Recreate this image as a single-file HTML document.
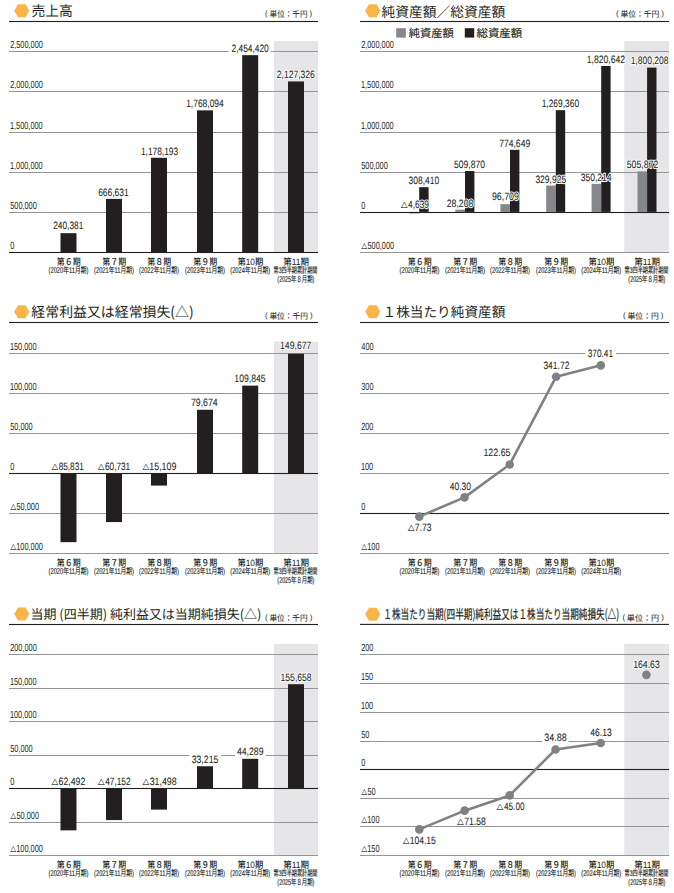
<!DOCTYPE html>
<html lang="ja"><head><meta charset="utf-8"><title>業績推移</title>
<style>
html,body{margin:0;padding:0;background:#fff;}
body{width:674px;height:893px;overflow:hidden;}
svg{display:block;}
text{text-rendering:geometricPrecision;}
</style></head><body>
<svg width="674" height="893" viewBox="0 0 674 893">
<rect width="674" height="893" fill="#fff"/>
<rect x="274.00" y="41.00" width="44.00" height="211.50" fill="#e6e6e8"/>
<rect x="9" y="51.00" width="309" height="1" fill="#949598"/>
<rect x="9" y="91.00" width="309" height="1" fill="#949598"/>
<rect x="9" y="132.00" width="309" height="1" fill="#949598"/>
<rect x="9" y="172.00" width="309" height="1" fill="#949598"/>
<rect x="9" y="212.00" width="309" height="1" fill="#949598"/>
<rect x="60.50" y="233.17" width="16.00" height="19.83" fill="#231f20"/>
<rect x="106.00" y="198.90" width="16.00" height="54.10" fill="#231f20"/>
<rect x="151.00" y="157.77" width="16.00" height="95.23" fill="#231f20"/>
<rect x="197.00" y="110.35" width="16.00" height="142.65" fill="#231f20"/>
<rect x="242.20" y="55.16" width="16.00" height="197.84" fill="#231f20"/>
<rect x="288.00" y="81.46" width="16.00" height="171.54" fill="#231f20"/>
<rect x="9" y="251.95" width="309" height="1.1" fill="#231f20"/>
<rect x="228.70" y="48.50" width="42.30" height="5.50" fill="#fff"/>
<text x="53.18" y="229.40" font-size="10.6" textLength="30.13" lengthAdjust="spacingAndGlyphs" fill="#fff" stroke="#fff" stroke-width="2.1" stroke-linejoin="round" style="font-family:'Liberation Sans','Noto Sans CJK JP',sans-serif">240,381</text>
<text x="53.18" y="229.40" font-size="10.6" textLength="30.13" lengthAdjust="spacingAndGlyphs" stroke="#231f20" stroke-width="0.05" fill="#231f20" style="font-family:'Liberation Sans','Noto Sans CJK JP',sans-serif">240,381</text>
<text x="98.17" y="195.90" font-size="10.6" textLength="30.54" lengthAdjust="spacingAndGlyphs" fill="#fff" stroke="#fff" stroke-width="2.1" stroke-linejoin="round" style="font-family:'Liberation Sans','Noto Sans CJK JP',sans-serif">666,631</text>
<text x="98.17" y="195.90" font-size="10.6" textLength="30.54" lengthAdjust="spacingAndGlyphs" stroke="#231f20" stroke-width="0.05" fill="#231f20" style="font-family:'Liberation Sans','Noto Sans CJK JP',sans-serif">666,631</text>
<text x="140.96" y="154.80" font-size="10.6" textLength="37.20" lengthAdjust="spacingAndGlyphs" fill="#fff" stroke="#fff" stroke-width="2.1" stroke-linejoin="round" style="font-family:'Liberation Sans','Noto Sans CJK JP',sans-serif">1,178,193</text>
<text x="140.96" y="154.80" font-size="10.6" textLength="37.20" lengthAdjust="spacingAndGlyphs" stroke="#231f20" stroke-width="0.05" fill="#231f20" style="font-family:'Liberation Sans','Noto Sans CJK JP',sans-serif">1,178,193</text>
<text x="186.16" y="106.80" font-size="10.6" textLength="37.59" lengthAdjust="spacingAndGlyphs" fill="#fff" stroke="#fff" stroke-width="2.1" stroke-linejoin="round" style="font-family:'Liberation Sans','Noto Sans CJK JP',sans-serif">1,768,094</text>
<text x="186.16" y="106.80" font-size="10.6" textLength="37.59" lengthAdjust="spacingAndGlyphs" stroke="#231f20" stroke-width="0.05" fill="#231f20" style="font-family:'Liberation Sans','Noto Sans CJK JP',sans-serif">1,768,094</text>
<text x="231.58" y="52.10" font-size="10.6" textLength="37.15" lengthAdjust="spacingAndGlyphs" fill="#fff" stroke="#fff" stroke-width="2.1" stroke-linejoin="round" style="font-family:'Liberation Sans','Noto Sans CJK JP',sans-serif">2,454,420</text>
<text x="231.58" y="52.10" font-size="10.6" textLength="37.15" lengthAdjust="spacingAndGlyphs" stroke="#231f20" stroke-width="0.05" fill="#231f20" style="font-family:'Liberation Sans','Noto Sans CJK JP',sans-serif">2,454,420</text>
<text x="276.77" y="78.00" font-size="10.6" textLength="38.11" lengthAdjust="spacingAndGlyphs" fill="#fff" stroke="#fff" stroke-width="2.1" stroke-linejoin="round" style="font-family:'Liberation Sans','Noto Sans CJK JP',sans-serif">2,127,326</text>
<text x="276.77" y="78.00" font-size="10.6" textLength="38.11" lengthAdjust="spacingAndGlyphs" stroke="#231f20" stroke-width="0.05" fill="#231f20" style="font-family:'Liberation Sans','Noto Sans CJK JP',sans-serif">2,127,326</text>
<text x="10.13" y="47.90" font-size="10.3" textLength="32.74" lengthAdjust="spacingAndGlyphs" fill="#231f20" style="font-family:'Liberation Sans','Noto Sans CJK JP',sans-serif">2,500,000</text>
<text x="10.13" y="87.90" font-size="10.3" textLength="32.74" lengthAdjust="spacingAndGlyphs" fill="#231f20" style="font-family:'Liberation Sans','Noto Sans CJK JP',sans-serif">2,000,000</text>
<text x="9.94" y="128.90" font-size="10.3" textLength="32.74" lengthAdjust="spacingAndGlyphs" fill="#231f20" style="font-family:'Liberation Sans','Noto Sans CJK JP',sans-serif">1,500,000</text>
<text x="9.94" y="168.90" font-size="10.3" textLength="32.74" lengthAdjust="spacingAndGlyphs" fill="#231f20" style="font-family:'Liberation Sans','Noto Sans CJK JP',sans-serif">1,000,000</text>
<text x="10.21" y="208.90" font-size="10.3" textLength="26.60" lengthAdjust="spacingAndGlyphs" fill="#231f20" style="font-family:'Liberation Sans','Noto Sans CJK JP',sans-serif">500,000</text>
<text x="10.21" y="248.90" font-size="10.3" textLength="4.09" lengthAdjust="spacingAndGlyphs" fill="#231f20" style="font-family:'Liberation Sans','Noto Sans CJK JP',sans-serif">0</text>
<text x="56.74" y="265.10" font-size="9.2" textLength="23.84" lengthAdjust="spacingAndGlyphs" fill="#231f20" style="font-family:'Liberation Sans','Noto Sans CJK JP',sans-serif;font-weight:500">第６期</text>
<text x="48.55" y="273.20" font-size="8.4" textLength="39.91" lengthAdjust="spacingAndGlyphs" stroke="#231f20" stroke-width="0.15" fill="#231f20" style="font-family:'Liberation Sans','Noto Sans CJK JP',sans-serif">(2020年11月期)</text>
<text x="102.24" y="265.10" font-size="9.2" textLength="23.84" lengthAdjust="spacingAndGlyphs" fill="#231f20" style="font-family:'Liberation Sans','Noto Sans CJK JP',sans-serif;font-weight:500">第７期</text>
<text x="94.05" y="273.20" font-size="8.4" textLength="39.91" lengthAdjust="spacingAndGlyphs" stroke="#231f20" stroke-width="0.15" fill="#231f20" style="font-family:'Liberation Sans','Noto Sans CJK JP',sans-serif">(2021年11月期)</text>
<text x="147.24" y="265.10" font-size="9.2" textLength="23.84" lengthAdjust="spacingAndGlyphs" fill="#231f20" style="font-family:'Liberation Sans','Noto Sans CJK JP',sans-serif;font-weight:500">第８期</text>
<text x="139.05" y="273.20" font-size="8.4" textLength="39.91" lengthAdjust="spacingAndGlyphs" stroke="#231f20" stroke-width="0.15" fill="#231f20" style="font-family:'Liberation Sans','Noto Sans CJK JP',sans-serif">(2022年11月期)</text>
<text x="193.24" y="265.10" font-size="9.2" textLength="23.84" lengthAdjust="spacingAndGlyphs" fill="#231f20" style="font-family:'Liberation Sans','Noto Sans CJK JP',sans-serif;font-weight:500">第９期</text>
<text x="185.05" y="273.20" font-size="8.4" textLength="39.91" lengthAdjust="spacingAndGlyphs" stroke="#231f20" stroke-width="0.15" fill="#231f20" style="font-family:'Liberation Sans','Noto Sans CJK JP',sans-serif">(2023年11月期)</text>
<text x="237.43" y="265.10" font-size="9.2" textLength="25.88" lengthAdjust="spacingAndGlyphs" fill="#231f20" style="font-family:'Liberation Sans','Noto Sans CJK JP',sans-serif;font-weight:500">第10期</text>
<text x="230.25" y="273.20" font-size="8.4" textLength="39.91" lengthAdjust="spacingAndGlyphs" stroke="#231f20" stroke-width="0.15" fill="#231f20" style="font-family:'Liberation Sans','Noto Sans CJK JP',sans-serif">(2024年11月期)</text>
<text x="283.23" y="265.10" font-size="9.2" textLength="25.88" lengthAdjust="spacingAndGlyphs" fill="#231f20" style="font-family:'Liberation Sans','Noto Sans CJK JP',sans-serif;font-weight:500">第11期</text>
<text x="273.53" y="273.20" font-size="8.2" textLength="43.90" lengthAdjust="spacingAndGlyphs" stroke="#231f20" stroke-width="0.15" fill="#231f20" style="font-family:'Liberation Sans','Noto Sans CJK JP',sans-serif">第3四半期累計期間</text>
<text x="277.37" y="282.10" font-size="8.4" textLength="36.97" lengthAdjust="spacingAndGlyphs" stroke="#231f20" stroke-width="0.15" fill="#231f20" style="font-family:'Liberation Sans','Noto Sans CJK JP',sans-serif">(2025年８月期)</text>
<polygon points="29.30,10.75 25.53,17.26 17.98,17.26 14.20,10.75 17.97,4.24 25.52,4.24" fill="#fbb448"/>
<text x="31.39" y="16.20" font-size="14" textLength="41.31" lengthAdjust="spacingAndGlyphs" fill="#231f20" style="font-family:'Noto Sans CJK JP','Liberation Sans',sans-serif">売上高</text>
<text x="265.11" y="16.30" font-size="7.789999999999999" textLength="2.64" lengthAdjust="spacingAndGlyphs" fill="#231f20" style="font-family:'Liberation Sans','Noto Sans CJK JP',sans-serif">(</text>
<text x="269.59" y="17.40" font-size="8.2" textLength="37.95" lengthAdjust="spacingAndGlyphs" stroke="#231f20" stroke-width="0.05" fill="#231f20" style="font-family:'Noto Sans CJK JP','Liberation Sans',sans-serif">単位：千円</text>
<text x="309.55" y="16.30" font-size="7.789999999999999" textLength="2.64" lengthAdjust="spacingAndGlyphs" fill="#231f20" style="font-family:'Liberation Sans','Noto Sans CJK JP',sans-serif">)</text>
<rect x="9" y="20.95" width="309" height="1.1" fill="#231f20"/>
<rect x="624.20" y="41.00" width="44.80" height="211.50" fill="#e6e6e8"/>
<rect x="360" y="51.00" width="309" height="1" fill="#949598"/>
<rect x="360" y="91.00" width="309" height="1" fill="#949598"/>
<rect x="360" y="132.00" width="309" height="1" fill="#949598"/>
<rect x="360" y="172.00" width="309" height="1" fill="#949598"/>
<rect x="360" y="252.00" width="309" height="1" fill="#949598"/>
<rect x="409.60" y="211.90" width="9.60" height="1.60" fill="#86878a"/>
<rect x="419.20" y="187.18" width="9.40" height="24.72" fill="#231f20"/>
<rect x="455.40" y="209.64" width="9.60" height="2.26" fill="#86878a"/>
<rect x="465.00" y="171.03" width="9.40" height="40.87" fill="#231f20"/>
<rect x="500.40" y="204.15" width="9.60" height="7.75" fill="#86878a"/>
<rect x="510.00" y="149.81" width="9.40" height="62.09" fill="#231f20"/>
<rect x="546.20" y="185.46" width="9.60" height="26.44" fill="#86878a"/>
<rect x="555.80" y="110.16" width="9.40" height="101.74" fill="#231f20"/>
<rect x="591.60" y="183.83" width="9.60" height="28.07" fill="#86878a"/>
<rect x="601.20" y="65.98" width="9.40" height="145.92" fill="#231f20"/>
<rect x="637.50" y="171.35" width="9.60" height="40.55" fill="#86878a"/>
<rect x="647.10" y="67.61" width="9.40" height="144.29" fill="#231f20"/>
<rect x="360" y="211.95" width="309" height="1.1" fill="#231f20"/>
<text x="400.69" y="207.69" font-size="7.493857493857494" textLength="6.91" lengthAdjust="spacingAndGlyphs" fill="#fff" stroke="#fff" stroke-width="2.1" stroke-linejoin="round" style="font-family:'Noto Sans CJK JP','Liberation Sans',sans-serif">△</text>
<text x="400.69" y="207.69" font-size="7.493857493857494" textLength="6.91" lengthAdjust="spacingAndGlyphs" stroke="#231f20" stroke-width="0.12" fill="#231f20" style="font-family:'Noto Sans CJK JP','Liberation Sans',sans-serif">△</text>
<text x="408.11" y="207.60" font-size="10.6" textLength="20.78" lengthAdjust="spacingAndGlyphs" fill="#fff" stroke="#fff" stroke-width="2.1" stroke-linejoin="round" style="font-family:'Liberation Sans','Noto Sans CJK JP',sans-serif">4,639</text>
<text x="408.11" y="207.60" font-size="10.6" textLength="20.78" lengthAdjust="spacingAndGlyphs" stroke="#231f20" stroke-width="0.05" fill="#231f20" style="font-family:'Liberation Sans','Noto Sans CJK JP',sans-serif">4,639</text>
<text x="408.58" y="183.70" font-size="10.6" textLength="30.55" lengthAdjust="spacingAndGlyphs" fill="#fff" stroke="#fff" stroke-width="2.1" stroke-linejoin="round" style="font-family:'Liberation Sans','Noto Sans CJK JP',sans-serif">308,410</text>
<text x="408.58" y="183.70" font-size="10.6" textLength="30.55" lengthAdjust="spacingAndGlyphs" stroke="#231f20" stroke-width="0.05" fill="#231f20" style="font-family:'Liberation Sans','Noto Sans CJK JP',sans-serif">308,410</text>
<text x="446.76" y="206.90" font-size="10.6" textLength="26.62" lengthAdjust="spacingAndGlyphs" fill="#fff" stroke="#fff" stroke-width="2.1" stroke-linejoin="round" style="font-family:'Liberation Sans','Noto Sans CJK JP',sans-serif">28,208</text>
<text x="446.76" y="206.90" font-size="10.6" textLength="26.62" lengthAdjust="spacingAndGlyphs" stroke="#231f20" stroke-width="0.05" fill="#231f20" style="font-family:'Liberation Sans','Noto Sans CJK JP',sans-serif">28,208</text>
<text x="453.96" y="168.10" font-size="10.6" textLength="30.98" lengthAdjust="spacingAndGlyphs" fill="#fff" stroke="#fff" stroke-width="2.1" stroke-linejoin="round" style="font-family:'Liberation Sans','Noto Sans CJK JP',sans-serif">509,870</text>
<text x="453.96" y="168.10" font-size="10.6" textLength="30.98" lengthAdjust="spacingAndGlyphs" stroke="#231f20" stroke-width="0.05" fill="#231f20" style="font-family:'Liberation Sans','Noto Sans CJK JP',sans-serif">509,870</text>
<text x="491.99" y="200.40" font-size="10.6" textLength="26.83" lengthAdjust="spacingAndGlyphs" fill="#fff" stroke="#fff" stroke-width="2.1" stroke-linejoin="round" style="font-family:'Liberation Sans','Noto Sans CJK JP',sans-serif">96,709</text>
<text x="491.99" y="200.40" font-size="10.6" textLength="26.83" lengthAdjust="spacingAndGlyphs" stroke="#231f20" stroke-width="0.05" fill="#231f20" style="font-family:'Liberation Sans','Noto Sans CJK JP',sans-serif">96,709</text>
<text x="499.16" y="146.70" font-size="10.6" textLength="31.05" lengthAdjust="spacingAndGlyphs" fill="#fff" stroke="#fff" stroke-width="2.1" stroke-linejoin="round" style="font-family:'Liberation Sans','Noto Sans CJK JP',sans-serif">774,649</text>
<text x="499.16" y="146.70" font-size="10.6" textLength="31.05" lengthAdjust="spacingAndGlyphs" stroke="#231f20" stroke-width="0.05" fill="#231f20" style="font-family:'Liberation Sans','Noto Sans CJK JP',sans-serif">774,649</text>
<text x="535.38" y="182.50" font-size="10.6" textLength="30.78" lengthAdjust="spacingAndGlyphs" fill="#fff" stroke="#fff" stroke-width="2.1" stroke-linejoin="round" style="font-family:'Liberation Sans','Noto Sans CJK JP',sans-serif">329,925</text>
<text x="535.38" y="182.50" font-size="10.6" textLength="30.78" lengthAdjust="spacingAndGlyphs" stroke="#231f20" stroke-width="0.05" fill="#231f20" style="font-family:'Liberation Sans','Noto Sans CJK JP',sans-serif">329,925</text>
<text x="541.66" y="106.70" font-size="10.6" textLength="37.47" lengthAdjust="spacingAndGlyphs" fill="#fff" stroke="#fff" stroke-width="2.1" stroke-linejoin="round" style="font-family:'Liberation Sans','Noto Sans CJK JP',sans-serif">1,269,360</text>
<text x="541.66" y="106.70" font-size="10.6" textLength="37.47" lengthAdjust="spacingAndGlyphs" stroke="#231f20" stroke-width="0.05" fill="#231f20" style="font-family:'Liberation Sans','Noto Sans CJK JP',sans-serif">1,269,360</text>
<text x="580.67" y="180.60" font-size="10.6" textLength="30.88" lengthAdjust="spacingAndGlyphs" fill="#fff" stroke="#fff" stroke-width="2.1" stroke-linejoin="round" style="font-family:'Liberation Sans','Noto Sans CJK JP',sans-serif">350,214</text>
<text x="580.67" y="180.60" font-size="10.6" textLength="30.88" lengthAdjust="spacingAndGlyphs" stroke="#231f20" stroke-width="0.05" fill="#231f20" style="font-family:'Liberation Sans','Noto Sans CJK JP',sans-serif">350,214</text>
<text x="586.74" y="62.50" font-size="10.6" textLength="38.39" lengthAdjust="spacingAndGlyphs" fill="#fff" stroke="#fff" stroke-width="2.1" stroke-linejoin="round" style="font-family:'Liberation Sans','Noto Sans CJK JP',sans-serif">1,820,642</text>
<text x="586.74" y="62.50" font-size="10.6" textLength="38.39" lengthAdjust="spacingAndGlyphs" stroke="#231f20" stroke-width="0.05" fill="#231f20" style="font-family:'Liberation Sans','Noto Sans CJK JP',sans-serif">1,820,642</text>
<text x="626.65" y="168.30" font-size="10.6" textLength="31.79" lengthAdjust="spacingAndGlyphs" fill="#fff" stroke="#fff" stroke-width="2.1" stroke-linejoin="round" style="font-family:'Liberation Sans','Noto Sans CJK JP',sans-serif">505,872</text>
<text x="626.65" y="168.30" font-size="10.6" textLength="31.79" lengthAdjust="spacingAndGlyphs" stroke="#231f20" stroke-width="0.05" fill="#231f20" style="font-family:'Liberation Sans','Noto Sans CJK JP',sans-serif">505,872</text>
<text x="630.65" y="63.50" font-size="10.6" textLength="37.82" lengthAdjust="spacingAndGlyphs" fill="#fff" stroke="#fff" stroke-width="2.1" stroke-linejoin="round" style="font-family:'Liberation Sans','Noto Sans CJK JP',sans-serif">1,800,208</text>
<text x="630.65" y="63.50" font-size="10.6" textLength="37.82" lengthAdjust="spacingAndGlyphs" stroke="#231f20" stroke-width="0.05" fill="#231f20" style="font-family:'Liberation Sans','Noto Sans CJK JP',sans-serif">1,800,208</text>
<text x="361.13" y="47.90" font-size="10.3" textLength="32.74" lengthAdjust="spacingAndGlyphs" fill="#231f20" style="font-family:'Liberation Sans','Noto Sans CJK JP',sans-serif">2,000,000</text>
<text x="360.94" y="87.90" font-size="10.3" textLength="32.74" lengthAdjust="spacingAndGlyphs" fill="#231f20" style="font-family:'Liberation Sans','Noto Sans CJK JP',sans-serif">1,500,000</text>
<text x="360.94" y="128.90" font-size="10.3" textLength="32.74" lengthAdjust="spacingAndGlyphs" fill="#231f20" style="font-family:'Liberation Sans','Noto Sans CJK JP',sans-serif">1,000,000</text>
<text x="361.21" y="168.90" font-size="10.3" textLength="26.60" lengthAdjust="spacingAndGlyphs" fill="#231f20" style="font-family:'Liberation Sans','Noto Sans CJK JP',sans-serif">500,000</text>
<text x="361.21" y="208.90" font-size="10.3" textLength="4.09" lengthAdjust="spacingAndGlyphs" fill="#231f20" style="font-family:'Liberation Sans','Noto Sans CJK JP',sans-serif">0</text>
<text x="361.32" y="248.99" font-size="7.125307125307126" textLength="5.96" lengthAdjust="spacingAndGlyphs" stroke="#231f20" stroke-width="0.12" fill="#231f20" style="font-family:'Noto Sans CJK JP','Liberation Sans',sans-serif">△</text>
<text x="367.51" y="248.90" font-size="10.3" textLength="26.60" lengthAdjust="spacingAndGlyphs" fill="#231f20" style="font-family:'Liberation Sans','Noto Sans CJK JP',sans-serif">500,000</text>
<text x="407.74" y="265.10" font-size="9.2" textLength="23.84" lengthAdjust="spacingAndGlyphs" fill="#231f20" style="font-family:'Liberation Sans','Noto Sans CJK JP',sans-serif;font-weight:500">第６期</text>
<text x="399.55" y="273.20" font-size="8.4" textLength="39.91" lengthAdjust="spacingAndGlyphs" stroke="#231f20" stroke-width="0.15" fill="#231f20" style="font-family:'Liberation Sans','Noto Sans CJK JP',sans-serif">(2020年11月期)</text>
<text x="453.24" y="265.10" font-size="9.2" textLength="23.84" lengthAdjust="spacingAndGlyphs" fill="#231f20" style="font-family:'Liberation Sans','Noto Sans CJK JP',sans-serif;font-weight:500">第７期</text>
<text x="445.05" y="273.20" font-size="8.4" textLength="39.91" lengthAdjust="spacingAndGlyphs" stroke="#231f20" stroke-width="0.15" fill="#231f20" style="font-family:'Liberation Sans','Noto Sans CJK JP',sans-serif">(2021年11月期)</text>
<text x="498.24" y="265.10" font-size="9.2" textLength="23.84" lengthAdjust="spacingAndGlyphs" fill="#231f20" style="font-family:'Liberation Sans','Noto Sans CJK JP',sans-serif;font-weight:500">第８期</text>
<text x="490.05" y="273.20" font-size="8.4" textLength="39.91" lengthAdjust="spacingAndGlyphs" stroke="#231f20" stroke-width="0.15" fill="#231f20" style="font-family:'Liberation Sans','Noto Sans CJK JP',sans-serif">(2022年11月期)</text>
<text x="544.24" y="265.10" font-size="9.2" textLength="23.84" lengthAdjust="spacingAndGlyphs" fill="#231f20" style="font-family:'Liberation Sans','Noto Sans CJK JP',sans-serif;font-weight:500">第９期</text>
<text x="536.05" y="273.20" font-size="8.4" textLength="39.91" lengthAdjust="spacingAndGlyphs" stroke="#231f20" stroke-width="0.15" fill="#231f20" style="font-family:'Liberation Sans','Noto Sans CJK JP',sans-serif">(2023年11月期)</text>
<text x="588.43" y="265.10" font-size="9.2" textLength="25.88" lengthAdjust="spacingAndGlyphs" fill="#231f20" style="font-family:'Liberation Sans','Noto Sans CJK JP',sans-serif;font-weight:500">第10期</text>
<text x="581.25" y="273.20" font-size="8.4" textLength="39.91" lengthAdjust="spacingAndGlyphs" stroke="#231f20" stroke-width="0.15" fill="#231f20" style="font-family:'Liberation Sans','Noto Sans CJK JP',sans-serif">(2024年11月期)</text>
<text x="634.23" y="265.10" font-size="9.2" textLength="25.88" lengthAdjust="spacingAndGlyphs" fill="#231f20" style="font-family:'Liberation Sans','Noto Sans CJK JP',sans-serif;font-weight:500">第11期</text>
<text x="624.53" y="273.20" font-size="8.2" textLength="43.90" lengthAdjust="spacingAndGlyphs" stroke="#231f20" stroke-width="0.15" fill="#231f20" style="font-family:'Liberation Sans','Noto Sans CJK JP',sans-serif">第3四半期累計期間</text>
<text x="628.37" y="282.10" font-size="8.4" textLength="36.97" lengthAdjust="spacingAndGlyphs" stroke="#231f20" stroke-width="0.15" fill="#231f20" style="font-family:'Liberation Sans','Noto Sans CJK JP',sans-serif">(2025年８月期)</text>
<polygon points="380.30,10.75 376.52,17.26 368.98,17.26 365.20,10.75 368.98,4.24 376.52,4.24" fill="#fbb448"/>
<text x="381.46" y="16.60" font-size="14" textLength="123.87" lengthAdjust="spacingAndGlyphs" fill="#231f20" style="font-family:'Noto Sans CJK JP','Liberation Sans',sans-serif">純資産額／総資産額</text>
<text x="615.91" y="16.30" font-size="7.789999999999999" textLength="2.64" lengthAdjust="spacingAndGlyphs" fill="#231f20" style="font-family:'Liberation Sans','Noto Sans CJK JP',sans-serif">(</text>
<text x="620.38" y="17.40" font-size="8.2" textLength="38.87" lengthAdjust="spacingAndGlyphs" stroke="#231f20" stroke-width="0.05" fill="#231f20" style="font-family:'Noto Sans CJK JP','Liberation Sans',sans-serif">単位：千円</text>
<text x="661.25" y="16.30" font-size="7.789999999999999" textLength="2.64" lengthAdjust="spacingAndGlyphs" fill="#231f20" style="font-family:'Liberation Sans','Noto Sans CJK JP',sans-serif">)</text>
<rect x="360" y="20.95" width="309" height="1.1" fill="#231f20"/>
<rect x="396.20" y="28.20" width="9.60" height="9.40" fill="#86878a"/>
<text x="408.82" y="37.00" font-size="11" textLength="44.85" lengthAdjust="spacingAndGlyphs" stroke="#231f20" stroke-width="0.15" fill="#231f20" style="font-family:'Noto Sans CJK JP','Liberation Sans',sans-serif">純資産額</text>
<rect x="464.80" y="28.20" width="9.40" height="9.40" fill="#231f20"/>
<text x="476.50" y="37.00" font-size="11" textLength="45.67" lengthAdjust="spacingAndGlyphs" stroke="#231f20" stroke-width="0.15" fill="#231f20" style="font-family:'Noto Sans CJK JP','Liberation Sans',sans-serif">総資産額</text>
<rect x="274.00" y="341.60" width="44.00" height="211.90" fill="#e6e6e8"/>
<rect x="9" y="353.00" width="309" height="1" fill="#949598"/>
<rect x="9" y="393.00" width="309" height="1" fill="#949598"/>
<rect x="9" y="433.00" width="309" height="1" fill="#949598"/>
<rect x="9" y="513.00" width="309" height="1" fill="#949598"/>
<rect x="9" y="553.00" width="309" height="1" fill="#949598"/>
<rect x="60.50" y="473.50" width="16.00" height="68.66" fill="#231f20"/>
<rect x="106.00" y="473.50" width="16.00" height="48.58" fill="#231f20"/>
<rect x="151.00" y="473.50" width="16.00" height="12.09" fill="#231f20"/>
<rect x="197.00" y="409.76" width="16.00" height="63.74" fill="#231f20"/>
<rect x="242.20" y="385.62" width="16.00" height="87.88" fill="#231f20"/>
<rect x="288.00" y="353.76" width="16.00" height="119.74" fill="#231f20"/>
<rect x="9" y="472.95" width="309" height="1.1" fill="#231f20"/>
<text x="51.39" y="470.09" font-size="7.493857493857494" textLength="6.91" lengthAdjust="spacingAndGlyphs" fill="#fff" stroke="#fff" stroke-width="2.1" stroke-linejoin="round" style="font-family:'Noto Sans CJK JP','Liberation Sans',sans-serif">△</text>
<text x="51.39" y="470.09" font-size="7.493857493857494" textLength="6.91" lengthAdjust="spacingAndGlyphs" stroke="#231f20" stroke-width="0.12" fill="#231f20" style="font-family:'Noto Sans CJK JP','Liberation Sans',sans-serif">△</text>
<text x="58.64" y="470.00" font-size="10.6" textLength="25.16" lengthAdjust="spacingAndGlyphs" fill="#fff" stroke="#fff" stroke-width="2.1" stroke-linejoin="round" style="font-family:'Liberation Sans','Noto Sans CJK JP',sans-serif">85,831</text>
<text x="58.64" y="470.00" font-size="10.6" textLength="25.16" lengthAdjust="spacingAndGlyphs" stroke="#231f20" stroke-width="0.05" fill="#231f20" style="font-family:'Liberation Sans','Noto Sans CJK JP',sans-serif">85,831</text>
<text x="97.79" y="470.09" font-size="7.493857493857494" textLength="6.91" lengthAdjust="spacingAndGlyphs" fill="#fff" stroke="#fff" stroke-width="2.1" stroke-linejoin="round" style="font-family:'Noto Sans CJK JP','Liberation Sans',sans-serif">△</text>
<text x="97.79" y="470.09" font-size="7.493857493857494" textLength="6.91" lengthAdjust="spacingAndGlyphs" stroke="#231f20" stroke-width="0.12" fill="#231f20" style="font-family:'Noto Sans CJK JP','Liberation Sans',sans-serif">△</text>
<text x="104.98" y="470.00" font-size="10.6" textLength="25.22" lengthAdjust="spacingAndGlyphs" fill="#fff" stroke="#fff" stroke-width="2.1" stroke-linejoin="round" style="font-family:'Liberation Sans','Noto Sans CJK JP',sans-serif">60,731</text>
<text x="104.98" y="470.00" font-size="10.6" textLength="25.22" lengthAdjust="spacingAndGlyphs" stroke="#231f20" stroke-width="0.05" fill="#231f20" style="font-family:'Liberation Sans','Noto Sans CJK JP',sans-serif">60,731</text>
<text x="142.39" y="470.09" font-size="7.493857493857494" textLength="6.91" lengthAdjust="spacingAndGlyphs" fill="#fff" stroke="#fff" stroke-width="2.1" stroke-linejoin="round" style="font-family:'Noto Sans CJK JP','Liberation Sans',sans-serif">△</text>
<text x="142.39" y="470.09" font-size="7.493857493857494" textLength="6.91" lengthAdjust="spacingAndGlyphs" stroke="#231f20" stroke-width="0.12" fill="#231f20" style="font-family:'Noto Sans CJK JP','Liberation Sans',sans-serif">△</text>
<text x="149.33" y="470.00" font-size="10.6" textLength="26.99" lengthAdjust="spacingAndGlyphs" fill="#fff" stroke="#fff" stroke-width="2.1" stroke-linejoin="round" style="font-family:'Liberation Sans','Noto Sans CJK JP',sans-serif">15,109</text>
<text x="149.33" y="470.00" font-size="10.6" textLength="26.99" lengthAdjust="spacingAndGlyphs" stroke="#231f20" stroke-width="0.05" fill="#231f20" style="font-family:'Liberation Sans','Noto Sans CJK JP',sans-serif">15,109</text>
<text x="190.95" y="405.90" font-size="10.6" textLength="26.70" lengthAdjust="spacingAndGlyphs" fill="#fff" stroke="#fff" stroke-width="2.1" stroke-linejoin="round" style="font-family:'Liberation Sans','Noto Sans CJK JP',sans-serif">79,674</text>
<text x="190.95" y="405.90" font-size="10.6" textLength="26.70" lengthAdjust="spacingAndGlyphs" stroke="#231f20" stroke-width="0.05" fill="#231f20" style="font-family:'Liberation Sans','Noto Sans CJK JP',sans-serif">79,674</text>
<text x="234.34" y="382.00" font-size="10.6" textLength="31.22" lengthAdjust="spacingAndGlyphs" fill="#fff" stroke="#fff" stroke-width="2.1" stroke-linejoin="round" style="font-family:'Liberation Sans','Noto Sans CJK JP',sans-serif">109,845</text>
<text x="234.34" y="382.00" font-size="10.6" textLength="31.22" lengthAdjust="spacingAndGlyphs" stroke="#231f20" stroke-width="0.05" fill="#231f20" style="font-family:'Liberation Sans','Noto Sans CJK JP',sans-serif">109,845</text>
<text x="280.04" y="349.40" font-size="10.6" textLength="31.29" lengthAdjust="spacingAndGlyphs" fill="#fff" stroke="#fff" stroke-width="2.1" stroke-linejoin="round" style="font-family:'Liberation Sans','Noto Sans CJK JP',sans-serif">149,677</text>
<text x="280.04" y="349.40" font-size="10.6" textLength="31.29" lengthAdjust="spacingAndGlyphs" stroke="#231f20" stroke-width="0.05" fill="#231f20" style="font-family:'Liberation Sans','Noto Sans CJK JP',sans-serif">149,677</text>
<text x="9.94" y="349.90" font-size="10.3" textLength="26.60" lengthAdjust="spacingAndGlyphs" fill="#231f20" style="font-family:'Liberation Sans','Noto Sans CJK JP',sans-serif">150,000</text>
<text x="9.94" y="389.90" font-size="10.3" textLength="26.60" lengthAdjust="spacingAndGlyphs" fill="#231f20" style="font-family:'Liberation Sans','Noto Sans CJK JP',sans-serif">100,000</text>
<text x="10.21" y="429.90" font-size="10.3" textLength="22.51" lengthAdjust="spacingAndGlyphs" fill="#231f20" style="font-family:'Liberation Sans','Noto Sans CJK JP',sans-serif">50,000</text>
<text x="10.21" y="469.90" font-size="10.3" textLength="4.09" lengthAdjust="spacingAndGlyphs" fill="#231f20" style="font-family:'Liberation Sans','Noto Sans CJK JP',sans-serif">0</text>
<text x="10.32" y="509.99" font-size="7.125307125307126" textLength="5.96" lengthAdjust="spacingAndGlyphs" stroke="#231f20" stroke-width="0.12" fill="#231f20" style="font-family:'Noto Sans CJK JP','Liberation Sans',sans-serif">△</text>
<text x="16.51" y="509.90" font-size="10.3" textLength="22.51" lengthAdjust="spacingAndGlyphs" fill="#231f20" style="font-family:'Liberation Sans','Noto Sans CJK JP',sans-serif">50,000</text>
<text x="10.32" y="549.99" font-size="7.125307125307126" textLength="5.96" lengthAdjust="spacingAndGlyphs" stroke="#231f20" stroke-width="0.12" fill="#231f20" style="font-family:'Noto Sans CJK JP','Liberation Sans',sans-serif">△</text>
<text x="16.24" y="549.90" font-size="10.3" textLength="26.60" lengthAdjust="spacingAndGlyphs" fill="#231f20" style="font-family:'Liberation Sans','Noto Sans CJK JP',sans-serif">100,000</text>
<text x="56.74" y="566.10" font-size="9.2" textLength="23.84" lengthAdjust="spacingAndGlyphs" fill="#231f20" style="font-family:'Liberation Sans','Noto Sans CJK JP',sans-serif;font-weight:500">第６期</text>
<text x="48.55" y="574.20" font-size="8.4" textLength="39.91" lengthAdjust="spacingAndGlyphs" stroke="#231f20" stroke-width="0.15" fill="#231f20" style="font-family:'Liberation Sans','Noto Sans CJK JP',sans-serif">(2020年11月期)</text>
<text x="102.24" y="566.10" font-size="9.2" textLength="23.84" lengthAdjust="spacingAndGlyphs" fill="#231f20" style="font-family:'Liberation Sans','Noto Sans CJK JP',sans-serif;font-weight:500">第７期</text>
<text x="94.05" y="574.20" font-size="8.4" textLength="39.91" lengthAdjust="spacingAndGlyphs" stroke="#231f20" stroke-width="0.15" fill="#231f20" style="font-family:'Liberation Sans','Noto Sans CJK JP',sans-serif">(2021年11月期)</text>
<text x="147.24" y="566.10" font-size="9.2" textLength="23.84" lengthAdjust="spacingAndGlyphs" fill="#231f20" style="font-family:'Liberation Sans','Noto Sans CJK JP',sans-serif;font-weight:500">第８期</text>
<text x="139.05" y="574.20" font-size="8.4" textLength="39.91" lengthAdjust="spacingAndGlyphs" stroke="#231f20" stroke-width="0.15" fill="#231f20" style="font-family:'Liberation Sans','Noto Sans CJK JP',sans-serif">(2022年11月期)</text>
<text x="193.24" y="566.10" font-size="9.2" textLength="23.84" lengthAdjust="spacingAndGlyphs" fill="#231f20" style="font-family:'Liberation Sans','Noto Sans CJK JP',sans-serif;font-weight:500">第９期</text>
<text x="185.05" y="574.20" font-size="8.4" textLength="39.91" lengthAdjust="spacingAndGlyphs" stroke="#231f20" stroke-width="0.15" fill="#231f20" style="font-family:'Liberation Sans','Noto Sans CJK JP',sans-serif">(2023年11月期)</text>
<text x="237.43" y="566.10" font-size="9.2" textLength="25.88" lengthAdjust="spacingAndGlyphs" fill="#231f20" style="font-family:'Liberation Sans','Noto Sans CJK JP',sans-serif;font-weight:500">第10期</text>
<text x="230.25" y="574.20" font-size="8.4" textLength="39.91" lengthAdjust="spacingAndGlyphs" stroke="#231f20" stroke-width="0.15" fill="#231f20" style="font-family:'Liberation Sans','Noto Sans CJK JP',sans-serif">(2024年11月期)</text>
<text x="283.23" y="566.10" font-size="9.2" textLength="25.88" lengthAdjust="spacingAndGlyphs" fill="#231f20" style="font-family:'Liberation Sans','Noto Sans CJK JP',sans-serif;font-weight:500">第11期</text>
<text x="273.53" y="574.20" font-size="8.2" textLength="43.90" lengthAdjust="spacingAndGlyphs" stroke="#231f20" stroke-width="0.15" fill="#231f20" style="font-family:'Liberation Sans','Noto Sans CJK JP',sans-serif">第3四半期累計期間</text>
<text x="277.37" y="583.10" font-size="8.4" textLength="36.97" lengthAdjust="spacingAndGlyphs" stroke="#231f20" stroke-width="0.15" fill="#231f20" style="font-family:'Liberation Sans','Noto Sans CJK JP',sans-serif">(2025年８月期)</text>
<polygon points="29.30,311.75 25.53,318.26 17.98,318.26 14.20,311.75 17.97,305.24 25.52,305.24" fill="#fbb448"/>
<text x="31.35" y="317.20" font-size="14" textLength="162.33" lengthAdjust="spacingAndGlyphs" fill="#231f20" style="font-family:'Noto Sans CJK JP','Liberation Sans',sans-serif">経常利益又は経常損失(△)</text>
<text x="264.91" y="318.10" font-size="7.789999999999999" textLength="2.64" lengthAdjust="spacingAndGlyphs" fill="#231f20" style="font-family:'Liberation Sans','Noto Sans CJK JP',sans-serif">(</text>
<text x="269.38" y="319.20" font-size="8.2" textLength="38.67" lengthAdjust="spacingAndGlyphs" stroke="#231f20" stroke-width="0.05" fill="#231f20" style="font-family:'Noto Sans CJK JP','Liberation Sans',sans-serif">単位：千円</text>
<text x="310.05" y="318.10" font-size="7.789999999999999" textLength="2.64" lengthAdjust="spacingAndGlyphs" fill="#231f20" style="font-family:'Liberation Sans','Noto Sans CJK JP',sans-serif">)</text>
<rect x="9" y="321.95" width="309" height="1.1" fill="#231f20"/>
<rect x="360" y="353.00" width="309" height="1" fill="#949598"/>
<rect x="360" y="393.00" width="309" height="1" fill="#949598"/>
<rect x="360" y="433.00" width="309" height="1" fill="#949598"/>
<rect x="360" y="473.00" width="309" height="1" fill="#949598"/>
<rect x="360" y="553.00" width="309" height="1" fill="#949598"/>
<rect x="360" y="512.95" width="309" height="1.1" fill="#231f20"/>
<rect x="585.30" y="352.00" width="30.80" height="3.00" fill="#fff"/>
<polyline points="419.30,516.59 464.50,497.38 509.70,464.44 556.10,376.81 600.80,365.34" fill="none" stroke="#808184" stroke-width="2.6" stroke-linejoin="round"/>
<circle cx="419.30" cy="516.59" r="4.3" fill="#808184"/>
<circle cx="464.50" cy="497.38" r="4.3" fill="#808184"/>
<circle cx="509.70" cy="464.44" r="4.3" fill="#808184"/>
<circle cx="556.10" cy="376.81" r="4.3" fill="#808184"/>
<circle cx="600.80" cy="365.34" r="4.3" fill="#808184"/>
<text x="407.69" y="530.89" font-size="7.493857493857494" textLength="6.91" lengthAdjust="spacingAndGlyphs" fill="#fff" stroke="#fff" stroke-width="2.1" stroke-linejoin="round" style="font-family:'Noto Sans CJK JP','Liberation Sans',sans-serif">△</text>
<text x="407.69" y="530.89" font-size="7.493857493857494" textLength="6.91" lengthAdjust="spacingAndGlyphs" stroke="#231f20" stroke-width="0.12" fill="#231f20" style="font-family:'Noto Sans CJK JP','Liberation Sans',sans-serif">△</text>
<text x="414.86" y="530.80" font-size="10.6" textLength="16.72" lengthAdjust="spacingAndGlyphs" fill="#fff" stroke="#fff" stroke-width="2.1" stroke-linejoin="round" style="font-family:'Liberation Sans','Noto Sans CJK JP',sans-serif">7.73</text>
<text x="414.86" y="530.80" font-size="10.6" textLength="16.72" lengthAdjust="spacingAndGlyphs" stroke="#231f20" stroke-width="0.05" fill="#231f20" style="font-family:'Liberation Sans','Noto Sans CJK JP',sans-serif">7.73</text>
<text x="449.71" y="489.90" font-size="10.6" textLength="21.23" lengthAdjust="spacingAndGlyphs" fill="#fff" stroke="#fff" stroke-width="2.1" stroke-linejoin="round" style="font-family:'Liberation Sans','Noto Sans CJK JP',sans-serif">40.30</text>
<text x="449.71" y="489.90" font-size="10.6" textLength="21.23" lengthAdjust="spacingAndGlyphs" stroke="#231f20" stroke-width="0.05" fill="#231f20" style="font-family:'Liberation Sans','Noto Sans CJK JP',sans-serif">40.30</text>
<text x="483.43" y="456.20" font-size="10.6" textLength="27.04" lengthAdjust="spacingAndGlyphs" fill="#fff" stroke="#fff" stroke-width="2.1" stroke-linejoin="round" style="font-family:'Liberation Sans','Noto Sans CJK JP',sans-serif">122.65</text>
<text x="483.43" y="456.20" font-size="10.6" textLength="27.04" lengthAdjust="spacingAndGlyphs" stroke="#231f20" stroke-width="0.05" fill="#231f20" style="font-family:'Liberation Sans','Noto Sans CJK JP',sans-serif">122.65</text>
<text x="543.38" y="368.50" font-size="10.6" textLength="26.05" lengthAdjust="spacingAndGlyphs" fill="#fff" stroke="#fff" stroke-width="2.1" stroke-linejoin="round" style="font-family:'Liberation Sans','Noto Sans CJK JP',sans-serif">341.72</text>
<text x="543.38" y="368.50" font-size="10.6" textLength="26.05" lengthAdjust="spacingAndGlyphs" stroke="#231f20" stroke-width="0.05" fill="#231f20" style="font-family:'Liberation Sans','Noto Sans CJK JP',sans-serif">341.72</text>
<text x="587.68" y="356.60" font-size="10.6" textLength="25.42" lengthAdjust="spacingAndGlyphs" fill="#fff" stroke="#fff" stroke-width="2.1" stroke-linejoin="round" style="font-family:'Liberation Sans','Noto Sans CJK JP',sans-serif">370.41</text>
<text x="587.68" y="356.60" font-size="10.6" textLength="25.42" lengthAdjust="spacingAndGlyphs" stroke="#231f20" stroke-width="0.05" fill="#231f20" style="font-family:'Liberation Sans','Noto Sans CJK JP',sans-serif">370.41</text>
<text x="361.33" y="349.90" font-size="10.3" textLength="12.28" lengthAdjust="spacingAndGlyphs" fill="#231f20" style="font-family:'Liberation Sans','Noto Sans CJK JP',sans-serif">400</text>
<text x="361.22" y="389.90" font-size="10.3" textLength="12.28" lengthAdjust="spacingAndGlyphs" fill="#231f20" style="font-family:'Liberation Sans','Noto Sans CJK JP',sans-serif">300</text>
<text x="361.13" y="429.90" font-size="10.3" textLength="12.28" lengthAdjust="spacingAndGlyphs" fill="#231f20" style="font-family:'Liberation Sans','Noto Sans CJK JP',sans-serif">200</text>
<text x="360.94" y="469.90" font-size="10.3" textLength="12.28" lengthAdjust="spacingAndGlyphs" fill="#231f20" style="font-family:'Liberation Sans','Noto Sans CJK JP',sans-serif">100</text>
<text x="361.21" y="509.90" font-size="10.3" textLength="4.09" lengthAdjust="spacingAndGlyphs" fill="#231f20" style="font-family:'Liberation Sans','Noto Sans CJK JP',sans-serif">0</text>
<text x="361.32" y="549.99" font-size="7.125307125307126" textLength="5.96" lengthAdjust="spacingAndGlyphs" stroke="#231f20" stroke-width="0.12" fill="#231f20" style="font-family:'Noto Sans CJK JP','Liberation Sans',sans-serif">△</text>
<text x="367.24" y="549.90" font-size="10.3" textLength="12.28" lengthAdjust="spacingAndGlyphs" fill="#231f20" style="font-family:'Liberation Sans','Noto Sans CJK JP',sans-serif">100</text>
<text x="407.74" y="566.10" font-size="9.2" textLength="23.84" lengthAdjust="spacingAndGlyphs" fill="#231f20" style="font-family:'Liberation Sans','Noto Sans CJK JP',sans-serif;font-weight:500">第６期</text>
<text x="399.55" y="574.20" font-size="8.4" textLength="39.91" lengthAdjust="spacingAndGlyphs" stroke="#231f20" stroke-width="0.15" fill="#231f20" style="font-family:'Liberation Sans','Noto Sans CJK JP',sans-serif">(2020年11月期)</text>
<text x="453.24" y="566.10" font-size="9.2" textLength="23.84" lengthAdjust="spacingAndGlyphs" fill="#231f20" style="font-family:'Liberation Sans','Noto Sans CJK JP',sans-serif;font-weight:500">第７期</text>
<text x="445.05" y="574.20" font-size="8.4" textLength="39.91" lengthAdjust="spacingAndGlyphs" stroke="#231f20" stroke-width="0.15" fill="#231f20" style="font-family:'Liberation Sans','Noto Sans CJK JP',sans-serif">(2021年11月期)</text>
<text x="498.24" y="566.10" font-size="9.2" textLength="23.84" lengthAdjust="spacingAndGlyphs" fill="#231f20" style="font-family:'Liberation Sans','Noto Sans CJK JP',sans-serif;font-weight:500">第８期</text>
<text x="490.05" y="574.20" font-size="8.4" textLength="39.91" lengthAdjust="spacingAndGlyphs" stroke="#231f20" stroke-width="0.15" fill="#231f20" style="font-family:'Liberation Sans','Noto Sans CJK JP',sans-serif">(2022年11月期)</text>
<text x="544.24" y="566.10" font-size="9.2" textLength="23.84" lengthAdjust="spacingAndGlyphs" fill="#231f20" style="font-family:'Liberation Sans','Noto Sans CJK JP',sans-serif;font-weight:500">第９期</text>
<text x="536.05" y="574.20" font-size="8.4" textLength="39.91" lengthAdjust="spacingAndGlyphs" stroke="#231f20" stroke-width="0.15" fill="#231f20" style="font-family:'Liberation Sans','Noto Sans CJK JP',sans-serif">(2023年11月期)</text>
<text x="588.43" y="566.10" font-size="9.2" textLength="25.88" lengthAdjust="spacingAndGlyphs" fill="#231f20" style="font-family:'Liberation Sans','Noto Sans CJK JP',sans-serif;font-weight:500">第10期</text>
<text x="581.25" y="574.20" font-size="8.4" textLength="39.91" lengthAdjust="spacingAndGlyphs" stroke="#231f20" stroke-width="0.15" fill="#231f20" style="font-family:'Liberation Sans','Noto Sans CJK JP',sans-serif">(2024年11月期)</text>
<polygon points="380.30,311.75 376.52,318.26 368.98,318.26 365.20,311.75 368.98,305.24 376.52,305.24" fill="#fbb448"/>
<text x="382.53" y="317.20" font-size="14" textLength="122.80" lengthAdjust="spacingAndGlyphs" fill="#231f20" style="font-family:'Noto Sans CJK JP','Liberation Sans',sans-serif">１株当たり純資産額</text>
<text x="623.11" y="318.10" font-size="7.789999999999999" textLength="2.64" lengthAdjust="spacingAndGlyphs" fill="#231f20" style="font-family:'Liberation Sans','Noto Sans CJK JP',sans-serif">(</text>
<text x="627.58" y="319.20" font-size="8.2" textLength="31.18" lengthAdjust="spacingAndGlyphs" stroke="#231f20" stroke-width="0.05" fill="#231f20" style="font-family:'Noto Sans CJK JP','Liberation Sans',sans-serif">単位：円</text>
<text x="660.75" y="318.10" font-size="7.789999999999999" textLength="2.64" lengthAdjust="spacingAndGlyphs" fill="#231f20" style="font-family:'Liberation Sans','Noto Sans CJK JP',sans-serif">)</text>
<rect x="360" y="321.95" width="309" height="1.1" fill="#231f20"/>
<rect x="274.00" y="643.80" width="44.00" height="211.70" fill="#e6e6e8"/>
<rect x="9" y="654.00" width="309" height="1" fill="#949598"/>
<rect x="9" y="688.00" width="309" height="1" fill="#949598"/>
<rect x="9" y="721.00" width="309" height="1" fill="#949598"/>
<rect x="9" y="755.00" width="309" height="1" fill="#949598"/>
<rect x="9" y="822.00" width="309" height="1" fill="#949598"/>
<rect x="9" y="855.00" width="309" height="1" fill="#949598"/>
<rect x="60.50" y="788.50" width="16.00" height="41.87" fill="#231f20"/>
<rect x="106.00" y="788.50" width="16.00" height="31.59" fill="#231f20"/>
<rect x="151.00" y="788.50" width="16.00" height="21.10" fill="#231f20"/>
<rect x="197.00" y="766.25" width="16.00" height="22.25" fill="#231f20"/>
<rect x="242.20" y="758.83" width="16.00" height="29.67" fill="#231f20"/>
<rect x="288.00" y="684.21" width="16.00" height="104.29" fill="#231f20"/>
<rect x="9" y="787.95" width="309" height="1.1" fill="#231f20"/>
<rect x="189.30" y="753.50" width="31.80" height="4.00" fill="#fff"/>
<rect x="235.00" y="753.50" width="30.60" height="4.00" fill="#fff"/>
<text x="51.39" y="784.59" font-size="7.493857493857494" textLength="6.91" lengthAdjust="spacingAndGlyphs" fill="#fff" stroke="#fff" stroke-width="2.1" stroke-linejoin="round" style="font-family:'Noto Sans CJK JP','Liberation Sans',sans-serif">△</text>
<text x="51.39" y="784.59" font-size="7.493857493857494" textLength="6.91" lengthAdjust="spacingAndGlyphs" stroke="#231f20" stroke-width="0.12" fill="#231f20" style="font-family:'Noto Sans CJK JP','Liberation Sans',sans-serif">△</text>
<text x="58.56" y="784.50" font-size="10.6" textLength="26.79" lengthAdjust="spacingAndGlyphs" fill="#fff" stroke="#fff" stroke-width="2.1" stroke-linejoin="round" style="font-family:'Liberation Sans','Noto Sans CJK JP',sans-serif">62,492</text>
<text x="58.56" y="784.50" font-size="10.6" textLength="26.79" lengthAdjust="spacingAndGlyphs" stroke="#231f20" stroke-width="0.05" fill="#231f20" style="font-family:'Liberation Sans','Noto Sans CJK JP',sans-serif">62,492</text>
<text x="97.79" y="784.59" font-size="7.493857493857494" textLength="6.91" lengthAdjust="spacingAndGlyphs" fill="#fff" stroke="#fff" stroke-width="2.1" stroke-linejoin="round" style="font-family:'Noto Sans CJK JP','Liberation Sans',sans-serif">△</text>
<text x="97.79" y="784.59" font-size="7.493857493857494" textLength="6.91" lengthAdjust="spacingAndGlyphs" stroke="#231f20" stroke-width="0.12" fill="#231f20" style="font-family:'Noto Sans CJK JP','Liberation Sans',sans-serif">△</text>
<text x="105.21" y="784.50" font-size="10.6" textLength="25.41" lengthAdjust="spacingAndGlyphs" fill="#fff" stroke="#fff" stroke-width="2.1" stroke-linejoin="round" style="font-family:'Liberation Sans','Noto Sans CJK JP',sans-serif">47,152</text>
<text x="105.21" y="784.50" font-size="10.6" textLength="25.41" lengthAdjust="spacingAndGlyphs" stroke="#231f20" stroke-width="0.05" fill="#231f20" style="font-family:'Liberation Sans','Noto Sans CJK JP',sans-serif">47,152</text>
<text x="142.39" y="784.59" font-size="7.493857493857494" textLength="6.91" lengthAdjust="spacingAndGlyphs" fill="#fff" stroke="#fff" stroke-width="2.1" stroke-linejoin="round" style="font-family:'Noto Sans CJK JP','Liberation Sans',sans-serif">△</text>
<text x="142.39" y="784.59" font-size="7.493857493857494" textLength="6.91" lengthAdjust="spacingAndGlyphs" stroke="#231f20" stroke-width="0.12" fill="#231f20" style="font-family:'Noto Sans CJK JP','Liberation Sans',sans-serif">△</text>
<text x="149.66" y="784.50" font-size="10.6" textLength="27.02" lengthAdjust="spacingAndGlyphs" fill="#fff" stroke="#fff" stroke-width="2.1" stroke-linejoin="round" style="font-family:'Liberation Sans','Noto Sans CJK JP',sans-serif">31,498</text>
<text x="149.66" y="784.50" font-size="10.6" textLength="27.02" lengthAdjust="spacingAndGlyphs" stroke="#231f20" stroke-width="0.05" fill="#231f20" style="font-family:'Liberation Sans','Noto Sans CJK JP',sans-serif">31,498</text>
<text x="191.67" y="762.60" font-size="10.6" textLength="26.70" lengthAdjust="spacingAndGlyphs" fill="#fff" stroke="#fff" stroke-width="2.1" stroke-linejoin="round" style="font-family:'Liberation Sans','Noto Sans CJK JP',sans-serif">33,215</text>
<text x="191.67" y="762.60" font-size="10.6" textLength="26.70" lengthAdjust="spacingAndGlyphs" stroke="#231f20" stroke-width="0.05" fill="#231f20" style="font-family:'Liberation Sans','Noto Sans CJK JP',sans-serif">33,215</text>
<text x="236.90" y="755.30" font-size="10.6" textLength="26.61" lengthAdjust="spacingAndGlyphs" fill="#fff" stroke="#fff" stroke-width="2.1" stroke-linejoin="round" style="font-family:'Liberation Sans','Noto Sans CJK JP',sans-serif">44,289</text>
<text x="236.90" y="755.30" font-size="10.6" textLength="26.61" lengthAdjust="spacingAndGlyphs" stroke="#231f20" stroke-width="0.05" fill="#231f20" style="font-family:'Liberation Sans','Noto Sans CJK JP',sans-serif">44,289</text>
<text x="280.54" y="680.50" font-size="10.6" textLength="31.13" lengthAdjust="spacingAndGlyphs" fill="#fff" stroke="#fff" stroke-width="2.1" stroke-linejoin="round" style="font-family:'Liberation Sans','Noto Sans CJK JP',sans-serif">155,658</text>
<text x="280.54" y="680.50" font-size="10.6" textLength="31.13" lengthAdjust="spacingAndGlyphs" stroke="#231f20" stroke-width="0.05" fill="#231f20" style="font-family:'Liberation Sans','Noto Sans CJK JP',sans-serif">155,658</text>
<text x="10.13" y="650.90" font-size="10.3" textLength="26.60" lengthAdjust="spacingAndGlyphs" fill="#231f20" style="font-family:'Liberation Sans','Noto Sans CJK JP',sans-serif">200,000</text>
<text x="9.94" y="684.90" font-size="10.3" textLength="26.60" lengthAdjust="spacingAndGlyphs" fill="#231f20" style="font-family:'Liberation Sans','Noto Sans CJK JP',sans-serif">150,000</text>
<text x="9.94" y="717.90" font-size="10.3" textLength="26.60" lengthAdjust="spacingAndGlyphs" fill="#231f20" style="font-family:'Liberation Sans','Noto Sans CJK JP',sans-serif">100,000</text>
<text x="10.21" y="751.90" font-size="10.3" textLength="22.51" lengthAdjust="spacingAndGlyphs" fill="#231f20" style="font-family:'Liberation Sans','Noto Sans CJK JP',sans-serif">50,000</text>
<text x="10.21" y="784.90" font-size="10.3" textLength="4.09" lengthAdjust="spacingAndGlyphs" fill="#231f20" style="font-family:'Liberation Sans','Noto Sans CJK JP',sans-serif">0</text>
<text x="10.32" y="818.99" font-size="7.125307125307126" textLength="5.96" lengthAdjust="spacingAndGlyphs" stroke="#231f20" stroke-width="0.12" fill="#231f20" style="font-family:'Noto Sans CJK JP','Liberation Sans',sans-serif">△</text>
<text x="16.51" y="818.90" font-size="10.3" textLength="22.51" lengthAdjust="spacingAndGlyphs" fill="#231f20" style="font-family:'Liberation Sans','Noto Sans CJK JP',sans-serif">50,000</text>
<text x="10.32" y="851.99" font-size="7.125307125307126" textLength="5.96" lengthAdjust="spacingAndGlyphs" stroke="#231f20" stroke-width="0.12" fill="#231f20" style="font-family:'Noto Sans CJK JP','Liberation Sans',sans-serif">△</text>
<text x="16.24" y="851.90" font-size="10.3" textLength="26.60" lengthAdjust="spacingAndGlyphs" fill="#231f20" style="font-family:'Liberation Sans','Noto Sans CJK JP',sans-serif">100,000</text>
<text x="56.74" y="868.10" font-size="9.2" textLength="23.84" lengthAdjust="spacingAndGlyphs" fill="#231f20" style="font-family:'Liberation Sans','Noto Sans CJK JP',sans-serif;font-weight:500">第６期</text>
<text x="48.55" y="876.20" font-size="8.4" textLength="39.91" lengthAdjust="spacingAndGlyphs" stroke="#231f20" stroke-width="0.15" fill="#231f20" style="font-family:'Liberation Sans','Noto Sans CJK JP',sans-serif">(2020年11月期)</text>
<text x="102.24" y="868.10" font-size="9.2" textLength="23.84" lengthAdjust="spacingAndGlyphs" fill="#231f20" style="font-family:'Liberation Sans','Noto Sans CJK JP',sans-serif;font-weight:500">第７期</text>
<text x="94.05" y="876.20" font-size="8.4" textLength="39.91" lengthAdjust="spacingAndGlyphs" stroke="#231f20" stroke-width="0.15" fill="#231f20" style="font-family:'Liberation Sans','Noto Sans CJK JP',sans-serif">(2021年11月期)</text>
<text x="147.24" y="868.10" font-size="9.2" textLength="23.84" lengthAdjust="spacingAndGlyphs" fill="#231f20" style="font-family:'Liberation Sans','Noto Sans CJK JP',sans-serif;font-weight:500">第８期</text>
<text x="139.05" y="876.20" font-size="8.4" textLength="39.91" lengthAdjust="spacingAndGlyphs" stroke="#231f20" stroke-width="0.15" fill="#231f20" style="font-family:'Liberation Sans','Noto Sans CJK JP',sans-serif">(2022年11月期)</text>
<text x="193.24" y="868.10" font-size="9.2" textLength="23.84" lengthAdjust="spacingAndGlyphs" fill="#231f20" style="font-family:'Liberation Sans','Noto Sans CJK JP',sans-serif;font-weight:500">第９期</text>
<text x="185.05" y="876.20" font-size="8.4" textLength="39.91" lengthAdjust="spacingAndGlyphs" stroke="#231f20" stroke-width="0.15" fill="#231f20" style="font-family:'Liberation Sans','Noto Sans CJK JP',sans-serif">(2023年11月期)</text>
<text x="237.43" y="868.10" font-size="9.2" textLength="25.88" lengthAdjust="spacingAndGlyphs" fill="#231f20" style="font-family:'Liberation Sans','Noto Sans CJK JP',sans-serif;font-weight:500">第10期</text>
<text x="230.25" y="876.20" font-size="8.4" textLength="39.91" lengthAdjust="spacingAndGlyphs" stroke="#231f20" stroke-width="0.15" fill="#231f20" style="font-family:'Liberation Sans','Noto Sans CJK JP',sans-serif">(2024年11月期)</text>
<text x="283.23" y="868.10" font-size="9.2" textLength="25.88" lengthAdjust="spacingAndGlyphs" fill="#231f20" style="font-family:'Liberation Sans','Noto Sans CJK JP',sans-serif;font-weight:500">第11期</text>
<text x="273.53" y="876.20" font-size="8.2" textLength="43.90" lengthAdjust="spacingAndGlyphs" stroke="#231f20" stroke-width="0.15" fill="#231f20" style="font-family:'Liberation Sans','Noto Sans CJK JP',sans-serif">第3四半期累計期間</text>
<text x="277.37" y="885.10" font-size="8.4" textLength="36.97" lengthAdjust="spacingAndGlyphs" stroke="#231f20" stroke-width="0.15" fill="#231f20" style="font-family:'Liberation Sans','Noto Sans CJK JP',sans-serif">(2025年８月期)</text>
<polygon points="29.30,613.90 25.53,620.41 17.98,620.41 14.20,613.90 17.97,607.39 25.52,607.39" fill="#fbb448"/>
<text x="30.51" y="619.20" font-size="13.2" textLength="230.99" lengthAdjust="spacingAndGlyphs" fill="#231f20" style="font-family:'Noto Sans CJK JP','Liberation Sans',sans-serif">当期 (四半期) 純利益又は当期純損失(△)</text>
<text x="264.91" y="619.70" font-size="7.789999999999999" textLength="2.64" lengthAdjust="spacingAndGlyphs" fill="#231f20" style="font-family:'Liberation Sans','Noto Sans CJK JP',sans-serif">(</text>
<text x="269.39" y="620.80" font-size="8.2" textLength="38.26" lengthAdjust="spacingAndGlyphs" stroke="#231f20" stroke-width="0.05" fill="#231f20" style="font-family:'Noto Sans CJK JP','Liberation Sans',sans-serif">単位：千円</text>
<text x="309.65" y="619.70" font-size="7.789999999999999" textLength="2.64" lengthAdjust="spacingAndGlyphs" fill="#231f20" style="font-family:'Liberation Sans','Noto Sans CJK JP',sans-serif">)</text>
<rect x="9" y="623.95" width="309" height="1.1" fill="#231f20"/>
<rect x="624.20" y="643.80" width="44.80" height="211.70" fill="#e6e6e8"/>
<rect x="360" y="654.00" width="309" height="1" fill="#949598"/>
<rect x="360" y="683.00" width="309" height="1" fill="#949598"/>
<rect x="360" y="712.00" width="309" height="1" fill="#949598"/>
<rect x="360" y="741.00" width="309" height="1" fill="#949598"/>
<rect x="360" y="798.00" width="309" height="1" fill="#949598"/>
<rect x="360" y="826.00" width="309" height="1" fill="#949598"/>
<rect x="360" y="855.00" width="309" height="1" fill="#949598"/>
<rect x="360" y="768.95" width="309" height="1.1" fill="#231f20"/>
<rect x="542.40" y="739.50" width="26.00" height="4.00" fill="#fff"/>
<polyline points="419.30,829.39 464.60,810.66 509.70,795.38 555.60,749.44 600.70,742.98" fill="none" stroke="#808184" stroke-width="2.6" stroke-linejoin="round"/>
<circle cx="419.30" cy="829.39" r="4.3" fill="#808184"/>
<circle cx="464.60" cy="810.66" r="4.3" fill="#808184"/>
<circle cx="509.70" cy="795.38" r="4.3" fill="#808184"/>
<circle cx="555.60" cy="749.44" r="4.3" fill="#808184"/>
<circle cx="600.70" cy="742.98" r="4.3" fill="#808184"/>
<circle cx="646.40" cy="674.84" r="4.3" fill="#808184"/>
<text x="402.69" y="843.79" font-size="7.493857493857494" textLength="6.91" lengthAdjust="spacingAndGlyphs" fill="#fff" stroke="#fff" stroke-width="2.1" stroke-linejoin="round" style="font-family:'Noto Sans CJK JP','Liberation Sans',sans-serif">△</text>
<text x="402.69" y="843.79" font-size="7.493857493857494" textLength="6.91" lengthAdjust="spacingAndGlyphs" stroke="#231f20" stroke-width="0.12" fill="#231f20" style="font-family:'Noto Sans CJK JP','Liberation Sans',sans-serif">△</text>
<text x="409.65" y="843.70" font-size="10.6" textLength="26.21" lengthAdjust="spacingAndGlyphs" fill="#fff" stroke="#fff" stroke-width="2.1" stroke-linejoin="round" style="font-family:'Liberation Sans','Noto Sans CJK JP',sans-serif">104.15</text>
<text x="409.65" y="843.70" font-size="10.6" textLength="26.21" lengthAdjust="spacingAndGlyphs" stroke="#231f20" stroke-width="0.05" fill="#231f20" style="font-family:'Liberation Sans','Noto Sans CJK JP',sans-serif">104.15</text>
<text x="457.09" y="824.69" font-size="7.493857493857494" textLength="6.91" lengthAdjust="spacingAndGlyphs" fill="#fff" stroke="#fff" stroke-width="2.1" stroke-linejoin="round" style="font-family:'Noto Sans CJK JP','Liberation Sans',sans-serif">△</text>
<text x="457.09" y="824.69" font-size="7.493857493857494" textLength="6.91" lengthAdjust="spacingAndGlyphs" stroke="#231f20" stroke-width="0.12" fill="#231f20" style="font-family:'Noto Sans CJK JP','Liberation Sans',sans-serif">△</text>
<text x="464.26" y="824.60" font-size="10.6" textLength="21.51" lengthAdjust="spacingAndGlyphs" fill="#fff" stroke="#fff" stroke-width="2.1" stroke-linejoin="round" style="font-family:'Liberation Sans','Noto Sans CJK JP',sans-serif">71.58</text>
<text x="464.26" y="824.60" font-size="10.6" textLength="21.51" lengthAdjust="spacingAndGlyphs" stroke="#231f20" stroke-width="0.05" fill="#231f20" style="font-family:'Liberation Sans','Noto Sans CJK JP',sans-serif">71.58</text>
<text x="496.59" y="809.59" font-size="7.493857493857494" textLength="6.91" lengthAdjust="spacingAndGlyphs" fill="#fff" stroke="#fff" stroke-width="2.1" stroke-linejoin="round" style="font-family:'Noto Sans CJK JP','Liberation Sans',sans-serif">△</text>
<text x="496.59" y="809.59" font-size="7.493857493857494" textLength="6.91" lengthAdjust="spacingAndGlyphs" stroke="#231f20" stroke-width="0.12" fill="#231f20" style="font-family:'Noto Sans CJK JP','Liberation Sans',sans-serif">△</text>
<text x="504.01" y="809.50" font-size="10.6" textLength="20.51" lengthAdjust="spacingAndGlyphs" fill="#fff" stroke="#fff" stroke-width="2.1" stroke-linejoin="round" style="font-family:'Liberation Sans','Noto Sans CJK JP',sans-serif">45.00</text>
<text x="504.01" y="809.50" font-size="10.6" textLength="20.51" lengthAdjust="spacingAndGlyphs" stroke="#231f20" stroke-width="0.05" fill="#231f20" style="font-family:'Liberation Sans','Noto Sans CJK JP',sans-serif">45.00</text>
<text x="544.36" y="741.40" font-size="10.6" textLength="22.22" lengthAdjust="spacingAndGlyphs" fill="#fff" stroke="#fff" stroke-width="2.1" stroke-linejoin="round" style="font-family:'Liberation Sans','Noto Sans CJK JP',sans-serif">34.88</text>
<text x="544.36" y="741.40" font-size="10.6" textLength="22.22" lengthAdjust="spacingAndGlyphs" stroke="#231f20" stroke-width="0.05" fill="#231f20" style="font-family:'Liberation Sans','Noto Sans CJK JP',sans-serif">34.88</text>
<text x="590.20" y="735.70" font-size="10.6" textLength="21.58" lengthAdjust="spacingAndGlyphs" fill="#fff" stroke="#fff" stroke-width="2.1" stroke-linejoin="round" style="font-family:'Liberation Sans','Noto Sans CJK JP',sans-serif">46.13</text>
<text x="590.20" y="735.70" font-size="10.6" textLength="21.58" lengthAdjust="spacingAndGlyphs" stroke="#231f20" stroke-width="0.05" fill="#231f20" style="font-family:'Liberation Sans','Noto Sans CJK JP',sans-serif">46.13</text>
<text x="633.14" y="667.80" font-size="10.6" textLength="26.65" lengthAdjust="spacingAndGlyphs" fill="#fff" stroke="#fff" stroke-width="2.1" stroke-linejoin="round" style="font-family:'Liberation Sans','Noto Sans CJK JP',sans-serif">164.63</text>
<text x="633.14" y="667.80" font-size="10.6" textLength="26.65" lengthAdjust="spacingAndGlyphs" stroke="#231f20" stroke-width="0.05" fill="#231f20" style="font-family:'Liberation Sans','Noto Sans CJK JP',sans-serif">164.63</text>
<text x="361.13" y="650.90" font-size="10.3" textLength="12.28" lengthAdjust="spacingAndGlyphs" fill="#231f20" style="font-family:'Liberation Sans','Noto Sans CJK JP',sans-serif">200</text>
<text x="360.94" y="679.90" font-size="10.3" textLength="12.28" lengthAdjust="spacingAndGlyphs" fill="#231f20" style="font-family:'Liberation Sans','Noto Sans CJK JP',sans-serif">150</text>
<text x="360.94" y="708.90" font-size="10.3" textLength="12.28" lengthAdjust="spacingAndGlyphs" fill="#231f20" style="font-family:'Liberation Sans','Noto Sans CJK JP',sans-serif">100</text>
<text x="361.21" y="737.90" font-size="10.3" textLength="8.19" lengthAdjust="spacingAndGlyphs" fill="#231f20" style="font-family:'Liberation Sans','Noto Sans CJK JP',sans-serif">50</text>
<text x="361.21" y="765.90" font-size="10.3" textLength="4.09" lengthAdjust="spacingAndGlyphs" fill="#231f20" style="font-family:'Liberation Sans','Noto Sans CJK JP',sans-serif">0</text>
<text x="361.32" y="794.99" font-size="7.125307125307126" textLength="5.96" lengthAdjust="spacingAndGlyphs" stroke="#231f20" stroke-width="0.12" fill="#231f20" style="font-family:'Noto Sans CJK JP','Liberation Sans',sans-serif">△</text>
<text x="367.51" y="794.90" font-size="10.3" textLength="8.19" lengthAdjust="spacingAndGlyphs" fill="#231f20" style="font-family:'Liberation Sans','Noto Sans CJK JP',sans-serif">50</text>
<text x="361.32" y="822.99" font-size="7.125307125307126" textLength="5.96" lengthAdjust="spacingAndGlyphs" stroke="#231f20" stroke-width="0.12" fill="#231f20" style="font-family:'Noto Sans CJK JP','Liberation Sans',sans-serif">△</text>
<text x="367.24" y="822.90" font-size="10.3" textLength="12.28" lengthAdjust="spacingAndGlyphs" fill="#231f20" style="font-family:'Liberation Sans','Noto Sans CJK JP',sans-serif">100</text>
<text x="361.32" y="851.99" font-size="7.125307125307126" textLength="5.96" lengthAdjust="spacingAndGlyphs" stroke="#231f20" stroke-width="0.12" fill="#231f20" style="font-family:'Noto Sans CJK JP','Liberation Sans',sans-serif">△</text>
<text x="367.24" y="851.90" font-size="10.3" textLength="12.28" lengthAdjust="spacingAndGlyphs" fill="#231f20" style="font-family:'Liberation Sans','Noto Sans CJK JP',sans-serif">150</text>
<text x="407.74" y="868.10" font-size="9.2" textLength="23.84" lengthAdjust="spacingAndGlyphs" fill="#231f20" style="font-family:'Liberation Sans','Noto Sans CJK JP',sans-serif;font-weight:500">第６期</text>
<text x="399.55" y="876.20" font-size="8.4" textLength="39.91" lengthAdjust="spacingAndGlyphs" stroke="#231f20" stroke-width="0.15" fill="#231f20" style="font-family:'Liberation Sans','Noto Sans CJK JP',sans-serif">(2020年11月期)</text>
<text x="453.24" y="868.10" font-size="9.2" textLength="23.84" lengthAdjust="spacingAndGlyphs" fill="#231f20" style="font-family:'Liberation Sans','Noto Sans CJK JP',sans-serif;font-weight:500">第７期</text>
<text x="445.05" y="876.20" font-size="8.4" textLength="39.91" lengthAdjust="spacingAndGlyphs" stroke="#231f20" stroke-width="0.15" fill="#231f20" style="font-family:'Liberation Sans','Noto Sans CJK JP',sans-serif">(2021年11月期)</text>
<text x="498.24" y="868.10" font-size="9.2" textLength="23.84" lengthAdjust="spacingAndGlyphs" fill="#231f20" style="font-family:'Liberation Sans','Noto Sans CJK JP',sans-serif;font-weight:500">第８期</text>
<text x="490.05" y="876.20" font-size="8.4" textLength="39.91" lengthAdjust="spacingAndGlyphs" stroke="#231f20" stroke-width="0.15" fill="#231f20" style="font-family:'Liberation Sans','Noto Sans CJK JP',sans-serif">(2022年11月期)</text>
<text x="544.24" y="868.10" font-size="9.2" textLength="23.84" lengthAdjust="spacingAndGlyphs" fill="#231f20" style="font-family:'Liberation Sans','Noto Sans CJK JP',sans-serif;font-weight:500">第９期</text>
<text x="536.05" y="876.20" font-size="8.4" textLength="39.91" lengthAdjust="spacingAndGlyphs" stroke="#231f20" stroke-width="0.15" fill="#231f20" style="font-family:'Liberation Sans','Noto Sans CJK JP',sans-serif">(2023年11月期)</text>
<text x="588.43" y="868.10" font-size="9.2" textLength="25.88" lengthAdjust="spacingAndGlyphs" fill="#231f20" style="font-family:'Liberation Sans','Noto Sans CJK JP',sans-serif;font-weight:500">第10期</text>
<text x="581.25" y="876.20" font-size="8.4" textLength="39.91" lengthAdjust="spacingAndGlyphs" stroke="#231f20" stroke-width="0.15" fill="#231f20" style="font-family:'Liberation Sans','Noto Sans CJK JP',sans-serif">(2024年11月期)</text>
<text x="634.23" y="868.10" font-size="9.2" textLength="25.88" lengthAdjust="spacingAndGlyphs" fill="#231f20" style="font-family:'Liberation Sans','Noto Sans CJK JP',sans-serif;font-weight:500">第11期</text>
<text x="624.53" y="876.20" font-size="8.2" textLength="43.90" lengthAdjust="spacingAndGlyphs" stroke="#231f20" stroke-width="0.15" fill="#231f20" style="font-family:'Liberation Sans','Noto Sans CJK JP',sans-serif">第3四半期累計期間</text>
<text x="628.37" y="885.10" font-size="8.4" textLength="36.97" lengthAdjust="spacingAndGlyphs" stroke="#231f20" stroke-width="0.15" fill="#231f20" style="font-family:'Liberation Sans','Noto Sans CJK JP',sans-serif">(2025年８月期)</text>
<polygon points="380.30,614.20 376.52,620.71 368.98,620.71 365.20,614.20 368.98,607.69 376.52,607.69" fill="#fbb448"/>
<text x="383.27" y="618.80" font-size="13.2" textLength="235.82" lengthAdjust="spacingAndGlyphs" stroke="#231f20" stroke-width="0.2" fill="#231f20" style="font-family:'Noto Sans CJK JP','Liberation Sans',sans-serif">１株当たり当期(四半期)純利益又は１株当たり当期純損失(△)</text>
<text x="622.41" y="619.80" font-size="7.789999999999999" textLength="2.64" lengthAdjust="spacingAndGlyphs" fill="#231f20" style="font-family:'Liberation Sans','Noto Sans CJK JP',sans-serif">(</text>
<text x="626.86" y="620.90" font-size="8.2" textLength="32.31" lengthAdjust="spacingAndGlyphs" stroke="#231f20" stroke-width="0.05" fill="#231f20" style="font-family:'Noto Sans CJK JP','Liberation Sans',sans-serif">単位：円</text>
<text x="661.15" y="619.80" font-size="7.789999999999999" textLength="2.64" lengthAdjust="spacingAndGlyphs" fill="#231f20" style="font-family:'Liberation Sans','Noto Sans CJK JP',sans-serif">)</text>
<rect x="360" y="623.85" width="309" height="1.1" fill="#231f20"/>
</svg>
</body></html>
